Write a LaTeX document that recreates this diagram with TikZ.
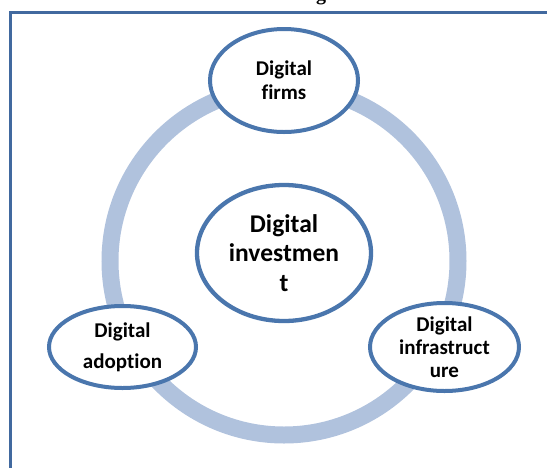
\documentclass[tikz,border=0pt]{standalone}
\usepackage{fontspec}
\setmainfont{Carlito}[Ligatures=NoCommon]
\newfontfamily\titlefont{Liberation Serif}
\usetikzlibrary{shapes.geometric}
\definecolor{ringblue}{HTML}{B0C2DD}
\definecolor{edgeblue}{HTML}{4A76AD}
\definecolor{frameblue}{HTML}{41699F}
\tikzset{
  bubble/.style={ellipse, draw=edgeblue, line width=4pt, fill=white,
    inner sep=0pt, align=center, font=\bfseries\fontsize{21}{24}\selectfont},
  hub/.style={bubble, line width=4.3pt, font=\bfseries\fontsize{25.5}{29.5}\selectfont},
  cycle ring/.style={draw=ringblue, line width=17pt},
  frame line/.style={draw=frameblue, line width=3pt}
}
\begin{document}
\begin{tikzpicture}[x=1pt, y=-1pt]
  \useasboundingbox (0,0) rectangle (547,467);
  % caption tail above the frame
  \node[font=\titlefont\bfseries\fontsize{20}{24}\selectfont, anchor=base] (caption) at (321,0) {g};
  % frame
  \coordinate (fbl) at (10.5,470);
  \coordinate (ftl) at (10.5,12.5);
  \coordinate (ftr) at (550,12.5);
  \draw[frame line] (fbl) -- (ftl) -- (ftr);
  % cycle
  \coordinate (hubc) at (284,261);
  \draw[cycle ring] (hubc) circle[radius=174];
  % nodes
  \node[hub, minimum width=174pt, minimum height=136pt] (invest) at (284,253) {Digital\\investmen\\t};
  \node[bubble, minimum width=148pt, minimum height=103pt] (firms) at (284,80.5) {Digital\\firms};
  \node[bubble, minimum width=147pt, minimum height=82pt, font=\bfseries\fontsize{21}{31}\selectfont] (adopt) at (122.5,347) {Digital\\adoption};
  \node[bubble, minimum width=149pt, minimum height=88pt, font=\bfseries\fontsize{21}{23}\selectfont] (infra) at (444.5,347) {Digital\\infrastruct\\ure};
\end{tikzpicture}
\end{document}
